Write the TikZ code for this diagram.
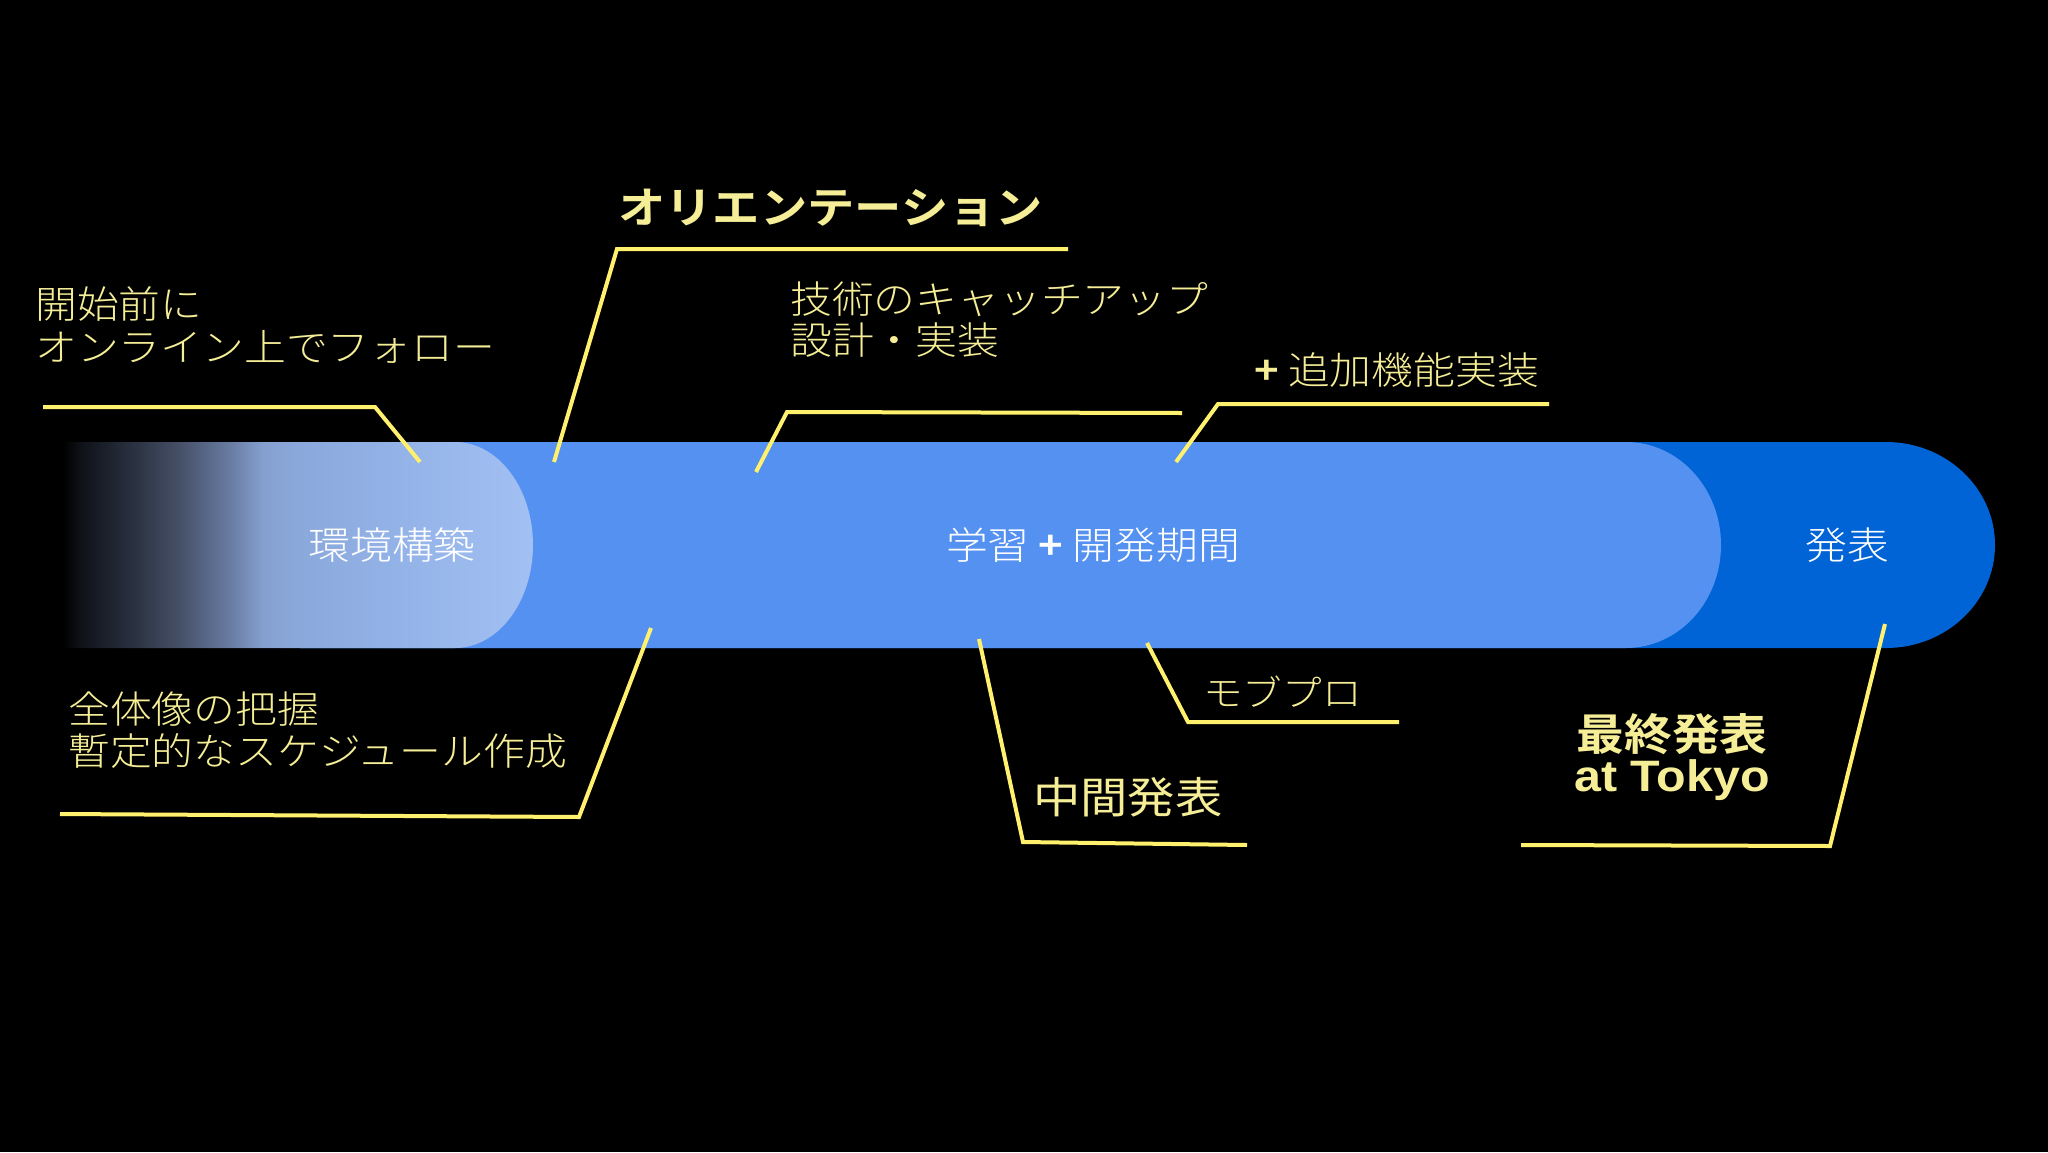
\documentclass[tikz,border=0pt]{standalone}
\usepackage{fontspec}
\usepackage{graphicx}
\IfFontExistsTF{Noto Sans CJK JP Light}
  {\setmainfont{Noto Sans CJK JP Light}[BoldFont={Noto Sans CJK JP Bold}]}
  {\setmainfont{Noto Sans CJK JP}}
\newfontfamily\regjp{Noto Sans CJK JP}
\newfontfamily\latb{Liberation Sans}
\definecolor{ylw}{RGB}{255,240,110}
\definecolor{ytxt}{RGB}{245,238,150}
\definecolor{midblue}{RGB}{85,145,240}
\definecolor{darkblue}{RGB}{0,100,214}
\definecolor{ga}{RGB}{15,17,23}
\definecolor{gb}{RGB}{40,47,62}
\definecolor{gc}{RGB}{70,80,104}
\definecolor{gd}{RGB}{104,124,162}
\definecolor{ge}{RGB}{133,160,207}
\definecolor{gf}{RGB}{138,168,218}
\definecolor{gg}{RGB}{147,178,231}
\definecolor{gh}{RGB}{162,192,242}
\pgfdeclarehorizontalshading{envgrad}{100bp}{color(0bp)=(black); color(26.84bp)=(black); color(28.59bp)=(ga); color(33.71bp)=(gb); color(38.83bp)=(gc); color(43.95bp)=(gd); color(47.34bp)=(ge); color(50.82bp)=(gf); color(61.07bp)=(gg); color(75bp)=(gh); color(100bp)=(gh)}
\newcommand\sx[1]{\scalebox{1.1}[1]{#1}}
\tikzset{
  lbl/.style={inner sep=0pt, text=ytxt, anchor=west, align=left, font=\fontsize{38}{43}\selectfont},
  bartxt/.style={inner sep=0pt, text=white, font=\fontsize{38}{43}\selectfont},
  lead/.style={draw=ylw, line width=4pt, line join=miter, line cap=butt},
}
\begin{document}
\begin{tikzpicture}[x=1pt,y=-1pt]
\fill[black] (0,0) rectangle (2048,1152);
\useasboundingbox (0,0) rectangle (2048,1152);

% bar segments
\fill[darkblue] (300,442) -- (1886,442) .. controls (1946,442) and (1995,488) .. (1995,545) .. controls (1995,602) and (1946,648) .. (1886,648) -- (300,648) -- cycle;
\fill[midblue] (300,442) -- (1626,442) .. controls (1678.5,442) and (1721,488) .. (1721,545) .. controls (1721,602) and (1678.5,648) .. (1626,648) -- (300,648) -- cycle;
\shade[shading=envgrad] (63,442) -- (455,442) .. controls (498,442) and (533,488) .. (533,545) .. controls (533,602) and (498,648) .. (455,648) -- (63,648) .. controls (53,648) and (45,640) .. (45,630) -- (45,460) .. controls (45,450) and (53,442) .. (63,442) -- cycle;

% bar labels
\node[bartxt] (env) at (392,545) {\sx{環境構築}};
\node[bartxt] (dev) at (1093,545) {\sx{学習 {\bfseries +} 開発期間}};
\node[bartxt] (pres) at (1847,545) {\sx{発表}};

% callout labels
\node[lbl] (pre) at (35,325) {\sx{開始前に}\\\sx{オンライン上でフォロー}};
\node[lbl, font=\fontsize{43}{46}\selectfont\bfseries] (orient) at (618,208) {\sx{オリエンテーション}};
\node[lbl, font=\fontsize{38}{41}\selectfont] (tech) at (790,320) {\sx{技術のキャッチアップ}\\\sx{設計・実装}};
\node[lbl] (add) at (1254,370) {\sx{{\bfseries +} 追加機能実装}};
\node[lbl, font=\fontsize{38}{42}\selectfont] (whole) at (68,730) {\sx{全体像の把握}\\\sx{暫定的なスケジュール作成}};
\node[lbl, font=\fontsize{43}{46}\selectfont\regjp] (mid) at (1033,797) {\sx{中間発表}};
\node[lbl, font=\fontsize{36}{40}\selectfont] (mob) at (1203,692) {\sx{モブプロ}};
\node[lbl, anchor=center, align=center, font=\fontsize{43.5}{41}\selectfont\bfseries] (final) at (1672,757) {\sx{最終発表}\\\sx{\latb\fontsize{44}{41}\selectfont at Tokyo}};

% leader coordinates
\coordinate (pa1) at (43,407);   \coordinate (pa2) at (375,407);  \coordinate (pa3) at (420,462);
\coordinate (ob1) at (1068,249); \coordinate (ob2) at (617,249);  \coordinate (ob3) at (554,462);
\coordinate (tc1) at (1182,413); \coordinate (tc2) at (787,412);  \coordinate (tc3) at (756,472);
\coordinate (ad1) at (1549,404); \coordinate (ad2) at (1218,404); \coordinate (ad3) at (1176,462);
\coordinate (wh1) at (651,628);  \coordinate (wh2) at (579,817);  \coordinate (wh3) at (60,814);
\coordinate (md1) at (979,639);  \coordinate (md2) at (1023,842); \coordinate (md3) at (1247,845);
\coordinate (mb1) at (1147,643); \coordinate (mb2) at (1188,722); \coordinate (mb3) at (1399,722);
\coordinate (fn1) at (1885,624); \coordinate (fn2) at (1830,846); \coordinate (fn3) at (1521,845);

\draw[lead] (pa1) -- (pa2) -- (pa3);
\draw[lead] (ob1) -- (ob2) -- (ob3);
\draw[lead] (tc1) -- (tc2) -- (tc3);
\draw[lead] (ad1) -- (ad2) -- (ad3);
\draw[lead] (wh1) -- (wh2) -- (wh3);
\draw[lead] (md1) -- (md2) -- (md3);
\draw[lead] (mb1) -- (mb2) -- (mb3);
\draw[lead] (fn1) -- (fn2) -- (fn3);
\end{tikzpicture}
\end{document}
